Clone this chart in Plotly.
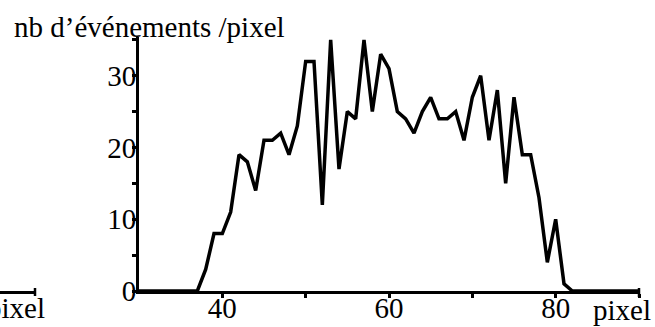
import plotly.graph_objects as go

x_pixels = list(range(30, 91))
counts = [0, 0, 0, 0, 0, 0, 0, 0,          # 30-37
          3, 8, 8, 11, 19, 18, 14, 21, 21, 22, 19, 23,   # 38-49
          32, 32, 12, 35, 17, 25, 24, 35, 25, 33,        # 50-59
          31, 25, 24, 22, 25, 27, 24, 24, 25, 21,        # 60-69
          27, 30, 21, 28, 15, 27, 19, 19, 13, 4,         # 70-79
          10, 1, 0, 0, 0, 0, 0, 0, 0, 0, 0]              # 80-90

x_tickvals = [40, 50, 60, 70, 80, 90]
x_ticktext = ["40", "", "60", "", "80", ""]
y_tickvals = [0, 5, 10, 15, 20, 25, 30, 35]
y_ticktext = ["0", "", "10", "", "20", "", "30", ""]

y_title = "nb d’événements /pixel"
x_title = "pixel"

FONT = "Liberation Serif"
FS = 29

fig = go.Figure()
fig.add_trace(go.Scatter(x=x_pixels, y=counts, mode="lines",
                         line=dict(color="black", width=3.5),
                         showlegend=False, hoverinfo="skip"))

W, H = 655, 327
ml, mr, mt, mb = 139, 16, 37, 36
pw = W - ml - mr
ph = H - mt - mb

def px(xp):
    return (xp - ml) / pw

def py(yp):
    return (H - mb - yp) / ph

fig.update_layout(
    width=W, height=H,
    margin=dict(l=ml, r=mr, t=mt, b=mb, autoexpand=False),
    paper_bgcolor="white", plot_bgcolor="white",
    font=dict(family=FONT, size=FS, color="black"),
    xaxis=dict(range=[30, 90], showgrid=False, zeroline=False, automargin=False,
               showline=True, linecolor="black", linewidth=3,
               ticks="outside", ticklen=4, tickwidth=2.5, tickcolor="black",
               tickvals=x_tickvals, ticktext=x_ticktext,
               ticklabelstandoff=-15,
               tickfont=dict(family=FONT, size=FS, color="black")),
    yaxis=dict(range=[0, 35.4], showgrid=False, zeroline=False, automargin=False,
               showline=True, linecolor="black", linewidth=3,
               ticks="outside", ticklen=4, tickwidth=2.5, tickcolor="black",
               tickvals=y_tickvals, ticktext=y_ticktext,
               ticklabelstandoff=-10,
               tickfont=dict(family=FONT, size=FS, color="black")),
    annotations=[
        dict(text=y_title, xref="paper", yref="paper", x=px(12), y=py(27),
             xanchor="left", yanchor="middle", showarrow=False,
             font=dict(family=FONT, size=FS, color="black")),
        dict(text=x_title, xref="paper", yref="paper", x=px(622), y=py(310),
             xanchor="center", yanchor="middle", showarrow=False,
             font=dict(family=FONT, size=FS, color="black")),
        dict(text=x_title, xref="paper", yref="paper", x=px(47), y=py(308),
             xanchor="right", yanchor="middle", showarrow=False,
             font=dict(family=FONT, size=FS, color="black")),
    ],
    shapes=[
        dict(type="line", xref="paper", yref="paper",
             x0=px(-2), x1=px(35), y0=py(292.5), y1=py(292.5),
             line=dict(color="black", width=3)),
        dict(type="line", xref="paper", yref="paper",
             x0=px(35), x1=px(35), y0=py(296), y1=py(288),
             line=dict(color="black", width=2.5)),
        dict(type="line", xref="paper", yref="paper",
             x0=1, x1=1, y0=py(297), y1=py(288),
             line=dict(color="black", width=2.5)),
    ],
)

fig.write_html("out.html", config={"displayModeBar": False},
               post_script="document.body.style.margin='0';document.body.style.overflow='hidden';")
